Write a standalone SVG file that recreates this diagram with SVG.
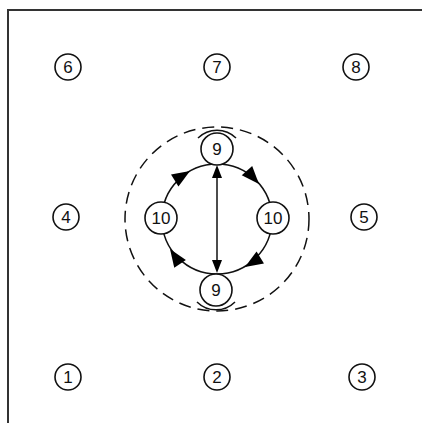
<svg xmlns="http://www.w3.org/2000/svg" width="422" height="423" viewBox="0 0 422 423">
<style>
.frame{fill:none;stroke:#333;stroke-width:2}
.node circle{fill:#fff;stroke:#111;stroke-width:1.6}
.node text{font-family:"Liberation Sans",Arial,sans-serif;font-size:17px;fill:#111;text-anchor:middle;dominant-baseline:central}
.dash{fill:none;stroke:#111;stroke-width:1.5;stroke-dasharray:12 7}
.line{fill:none;stroke:#111;stroke-width:1.5}
.ah{fill:#000}
</style>
<defs>
<path id="ah" d="M0,0 L-18,-7 L-18,7 Z"/>
<path id="ahv" d="M0,0 L-13,-5 L-13,5 Z"/>
</defs>
<rect class="frame" x="8" y="10" width="430" height="430"/>
<g id="connectors">
<circle class="dash" cx="217" cy="219" r="92"/>
<circle class="line" cx="217" cy="219" r="55"/>
<path class="line" d="M198,138 A27,27 0 0 1 236,138"/>
<path class="line" d="M197,302 A27,27 0 0 0 235,302"/>
<line class="line" x1="217" y1="174" x2="217" y2="264"/>
<use class="ah" href="#ahv" transform="translate(217,165) rotate(-90)"/>
<use class="ah" href="#ahv" transform="translate(217,273) rotate(90)"/>
<use class="ah" href="#ah" transform="translate(259,184) rotate(48)"/>
<use class="ah" href="#ah" transform="translate(245,267) rotate(148)"/>
<use class="ah" href="#ah" transform="translate(170,249) rotate(236)"/>
<use class="ah" href="#ah" transform="translate(190,171) rotate(328)"/>
</g>
<g id="n6" class="node"><circle cx="68" cy="67" r="13"/><text x="68" y="67">6</text></g>
<g id="n7" class="node"><circle cx="217" cy="67" r="13"/><text x="217" y="67">7</text></g>
<g id="n8" class="node"><circle cx="356" cy="67" r="13"/><text x="356" y="67">8</text></g>
<g id="n4" class="node"><circle cx="66" cy="217" r="13"/><text x="66" y="217">4</text></g>
<g id="n5" class="node"><circle cx="364" cy="217" r="13"/><text x="364" y="217">5</text></g>
<g id="n1" class="node"><circle cx="68" cy="377" r="13"/><text x="68" y="377">1</text></g>
<g id="n2" class="node"><circle cx="217" cy="377" r="13"/><text x="217" y="377">2</text></g>
<g id="n3" class="node"><circle cx="362" cy="377" r="13"/><text x="362" y="377">3</text></g>
<g id="n9a" class="node"><circle cx="217" cy="149" r="16"/><text x="217" y="149">9</text></g>
<g id="n9b" class="node"><circle cx="216" cy="290" r="16"/><text x="216" y="290">9</text></g>
<g id="n10a" class="node"><circle cx="161" cy="218" r="16"/><text x="161" y="218">10</text></g>
<g id="n10b" class="node"><circle cx="273" cy="218" r="16"/><text x="273" y="218">10</text></g>
</svg>
